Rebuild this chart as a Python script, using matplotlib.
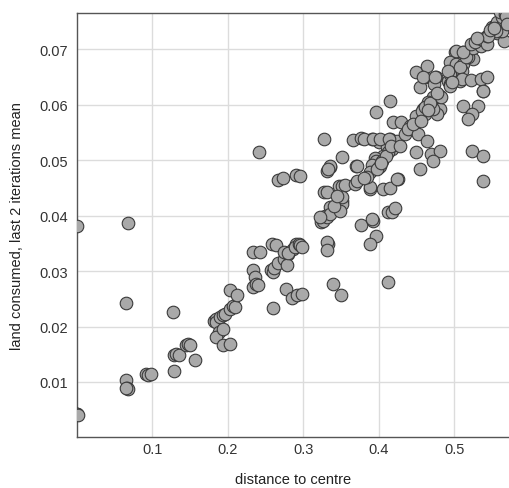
#!/usr/bin/env python3
"""Scatter of land consumed vs distance to centre."""

import matplotlib

matplotlib.use("Agg")
import matplotlib.pyplot as plt
import matplotlib.ticker as mticker

# values, grouped roughly by region
dist = [
    # far left / lower left
    0.001, 0.001, 0.002, 0.000, 0.0675, 0.065, 0.065, 0.066, 0.068, 0.065,
    0.092, 0.095, 0.098, 0.129, 0.131, 0.136, 0.129, 0.128, 0.145, 0.148,
    0.150, 0.157,
    # 0.18 - 0.22 band
    0.182, 0.185, 0.184, 0.190, 0.194, 0.196, 0.203, 0.207, 0.210, 0.188,
    0.185, 0.194, 0.203, 0.203, 0.213, 0.194,
    # 0.23 - 0.30 band
    0.234, 0.243, 0.259, 0.264, 0.233, 0.236, 0.236, 0.233, 0.238, 0.240,
    0.260, 0.258, 0.260, 0.262, 0.267, 0.274, 0.280, 0.287, 0.291, 0.278,
    0.277, 0.285, 0.292, 0.298, 0.274, 0.280, 0.289, 0.294, 0.296, 0.298,
    0.241, 0.267, 0.273, 0.290, 0.296,
    # 0.32 - 0.36 band
    0.335, 0.331, 0.347, 0.327, 0.331, 0.336, 0.327, 0.324, 0.329, 0.326,
    0.331, 0.335, 0.333, 0.331, 0.332, 0.351, 0.352, 0.349, 0.339, 0.350,
    0.336, 0.333, 0.351, 0.356, 0.369, 0.351, 0.371, 0.370, 0.352, 0.327,
    0.322, 0.341, 0.345,
    # 0.36 - 0.43 band
    0.377, 0.392, 0.397, 0.388, 0.413, 0.418, 0.422, 0.413, 0.388, 0.406,
    0.415, 0.389, 0.426, 0.391, 0.366, 0.377, 0.391, 0.401, 0.415, 0.424,
    0.411, 0.418, 0.413, 0.406, 0.395, 0.397, 0.391, 0.371, 0.388, 0.384,
    0.380, 0.400, 0.425, 0.402, 0.405, 0.398, 0.410, 0.403, 0.380, 0.392,
    0.402, 0.414, 0.417, 0.428, 0.415, 0.397, 0.419, 0.430, 0.435,
    # 0.43 - 0.50 band
    0.441, 0.439, 0.452, 0.464, 0.449, 0.470, 0.481, 0.472, 0.455, 0.449,
    0.462, 0.476, 0.455, 0.473, 0.492, 0.494, 0.499, 0.481, 0.475, 0.470,
    0.467, 0.481, 0.459, 0.461, 0.455, 0.452, 0.477, 0.464, 0.459, 0.475,
    0.494, 0.497, 0.472, 0.483, 0.472, 0.466, 0.494, 0.450, 0.458, 0.462,
    0.468, 0.478, 0.445, 0.456, 0.466,
    # 0.49 - 0.57 band
    0.501, 0.494, 0.503, 0.492, 0.512, 0.510, 0.508, 0.512, 0.525, 0.519,
    0.516, 0.525, 0.503, 0.512, 0.536, 0.523, 0.528, 0.536, 0.543, 0.543,
    0.550, 0.554, 0.557, 0.565, 0.557, 0.563, 0.561, 0.567, 0.569, 0.566,
    0.561, 0.563, 0.570, 0.556, 0.545, 0.538, 0.508, 0.510, 0.523, 0.536,
    0.543, 0.538, 0.512, 0.532, 0.524, 0.519, 0.524, 0.538, 0.538, 0.497,
    0.530, 0.548, 0.553,
]

land = [
    # far left / lower left
    0.0042, 0.0043, 0.0041, 0.0382, 0.0386, 0.0242, 0.0104, 0.0089, 0.0088,
    0.0090,
    0.0114, 0.0113, 0.0114, 0.0149, 0.0150, 0.0149, 0.0119, 0.0226, 0.0167,
    0.0168, 0.0167, 0.0140,
    # 0.18 - 0.22 band
    0.0210, 0.0214, 0.0208, 0.0217, 0.0220, 0.0223, 0.0232, 0.0237, 0.0235,
    0.0190, 0.0181, 0.0167, 0.0168, 0.0266, 0.0256, 0.0196,
    # 0.23 - 0.30 band
    0.0335, 0.0335, 0.0349, 0.0347, 0.0302, 0.0289, 0.0274, 0.0272, 0.0276,
    0.0274, 0.0233, 0.0301, 0.0298, 0.0305, 0.0314, 0.0321, 0.0331, 0.0340,
    0.0349, 0.0310, 0.0268, 0.0252, 0.0256, 0.0259, 0.0334, 0.0333, 0.0343,
    0.0349, 0.0346, 0.0344, 0.0514, 0.0464, 0.0467, 0.0473, 0.0472,
    # 0.32 - 0.36 band
    0.0487, 0.0481, 0.0454, 0.0442, 0.0442, 0.0415, 0.0394, 0.0388, 0.0400,
    0.0391, 0.0397, 0.0403, 0.0349, 0.0352, 0.0337, 0.0427, 0.0421, 0.0409,
    0.0277, 0.0257, 0.0489, 0.0483, 0.0454, 0.0455, 0.0457, 0.0505, 0.0463,
    0.0490, 0.0433, 0.0538, 0.0397, 0.0418, 0.0436,
    # 0.36 - 0.43 band
    0.0383, 0.0391, 0.0364, 0.0349, 0.0407, 0.0407, 0.0413, 0.0280, 0.0448,
    0.0448, 0.0450, 0.0451, 0.0466, 0.0394, 0.0537, 0.0539, 0.0538, 0.0533,
    0.0538, 0.0535, 0.0523, 0.0520, 0.0514, 0.0508, 0.0503, 0.0499, 0.0491,
    0.0489, 0.0479, 0.0469, 0.0467, 0.0487, 0.0466, 0.0490, 0.0498, 0.0483,
    0.0507, 0.0495, 0.0538, 0.0538, 0.0538, 0.0538, 0.0526, 0.0526, 0.0607,
    0.0587, 0.0568, 0.0568, 0.0547,
    # 0.43 - 0.50 band
    0.0562, 0.0556, 0.0547, 0.0535, 0.0514, 0.0511, 0.0517, 0.0499, 0.0484,
    0.0658, 0.0649, 0.0649, 0.0632, 0.0637, 0.0643, 0.0637, 0.0649, 0.0616,
    0.0613, 0.0607, 0.0598, 0.0592, 0.0592, 0.0583, 0.0574, 0.0577, 0.0583,
    0.0670, 0.0649, 0.0649, 0.0655, 0.0640, 0.0613, 0.0613, 0.0592, 0.0604,
    0.0634, 0.0580, 0.0588, 0.0595, 0.0602, 0.0620, 0.0565, 0.0570, 0.0590,
    # 0.49 - 0.57 band
    0.0694, 0.0676, 0.0673, 0.0661, 0.0673, 0.0661, 0.0667, 0.0694, 0.0682,
    0.0685, 0.0685, 0.0701, 0.0697, 0.0694, 0.0706, 0.0709, 0.0712, 0.0718,
    0.0709, 0.0724, 0.0739, 0.0742, 0.0748, 0.0745, 0.0729, 0.0757, 0.0766,
    0.0763, 0.0760, 0.0715, 0.0733, 0.0732, 0.0745, 0.0732, 0.0724, 0.0625,
    0.0643, 0.0646, 0.0644, 0.0646, 0.0650, 0.0462, 0.0598, 0.0598, 0.0583,
    0.0574, 0.0517, 0.0508, 0.0625, 0.0640, 0.0720, 0.0735, 0.0738,
]

x_ticks = [0.1, 0.2, 0.3, 0.4, 0.5]
y_ticks = [0.01, 0.02, 0.03, 0.04, 0.05, 0.06, 0.07]

plt.rcParams["font.family"] = "Liberation Sans"

fig = plt.figure(figsize=(5.10, 4.89), dpi=100)
ax = fig.add_axes([0.1504, 0.1033, 0.848, 0.8681])

ax.scatter(dist, land, s=82, facecolor="#a9a9a9", edgecolor="#3a3a3a",
           linewidth=0.8, zorder=3)

ax.set_xlim(0.0, 0.573)
ax.set_ylim(0.0, 0.0765)
ax.xaxis.set_major_locator(mticker.FixedLocator(x_ticks))
ax.yaxis.set_major_locator(mticker.FixedLocator(y_ticks))
ax.xaxis.set_major_formatter(mticker.FormatStrFormatter("%g"))
ax.yaxis.set_major_formatter(mticker.FormatStrFormatter("%g"))
ax.tick_params(length=0, labelsize=10.5, colors="#333333")
ax.tick_params(axis="x", pad=3.5)
ax.tick_params(axis="y", pad=6)
ax.grid(color="#dcdcdc", linewidth=1.0)
ax.set_axisbelow(True)

for side in ("left", "bottom", "top"):
    ax.spines[side].set_color("#555555")
    ax.spines[side].set_linewidth(1.0)
ax.spines["right"].set_visible(False)

ax.set_xlabel("distance to centre", fontsize=10.5, color="#222222", labelpad=11)
ax.set_ylabel("land consumed, last 2 iterations mean", fontsize=10.5,
              color="#222222", labelpad=11)

fig.savefig("out.png", dpi=100)
